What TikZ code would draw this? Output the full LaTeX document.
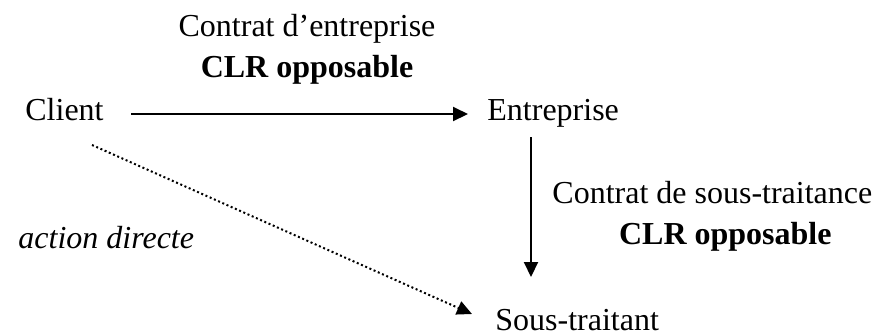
\documentclass[tikz,border=0pt]{standalone}
\usepackage{fontspec}
\setmainfont{Liberation Serif}
\usepackage{tikz}
\usetikzlibrary{arrows.meta, positioning, calc}

\begin{document}
\begin{tikzpicture}[x=0.5pt, y=-0.5pt,
  party/.style={inner sep=0pt, anchor=base west,
    font=\fontsize{16}{20.5}\selectfont},
  cadre/.style={inner sep=0pt, align=center,
    font=\fontsize{16}{20.5}\selectfont},
  recours/.style={inner sep=0pt, anchor=base west,
    font=\fontsize{16}{20.5}\selectfont\itshape},
  lien/.style={-{Triangle[length=7.5pt, width=7pt]}, line width=1pt},
  action/.style={lien, dash pattern=on 1pt off 1.3pt}
]
  \useasboundingbox (0,0) rectangle (873,334);
  \node[party] (cli) at (25,120)  {Client};
  \node[party] (ent) at (487,120) {Entreprise};
  \node[party] (st)  at (495,330) {Sous-traitant};
  \draw[lien] ([shift={(27,-6)}]cli.base east)
    -- node[cadre, above=14.5pt, xshift=3.75pt] (ce)
       {Contrat d’entreprise\\\textbf{CLR opposable}}
    ([shift={(-19,-6)}]ent.base west);
  \draw[lien] ([shift={(44,17)}]ent.base west) -- ([shift={(36,-53)}]st.base west);
  \node[cadre, anchor=north west] (cst) at (552,181)
    {Contrat de sous-traitance\\\hspace*{13pt}\textbf{CLR opposable}};
  \draw[action] ([shift={(-12,25)}]cli.base east) -- ([shift={(-23,-16)}]st.base west);
  \node[recours] (ad) at (18,248) {action directe};
\end{tikzpicture}
\end{document}
